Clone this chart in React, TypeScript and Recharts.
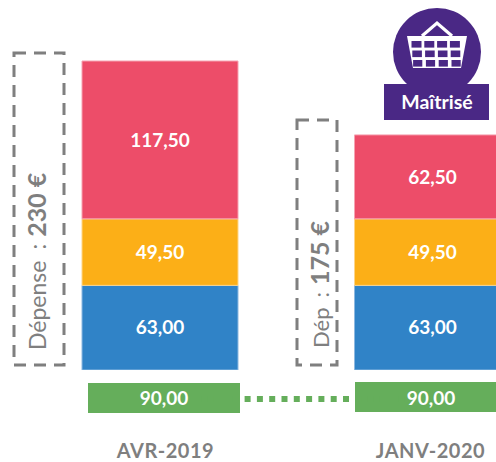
import { Bar, BarChart, LabelList, Line, ComposedChart, XAxis, YAxis } from "recharts";

const periods = ["AVR-2019", "JANV-2020"];
const blueValues = [63, 63];
const orangeValues = [49.5, 49.5];
const redValues = [117.5, 62.5];
const greenValues = [90, 90];
const linkLevels = [42, 42];

const stackData = periods.map((period, i) => ({
  period,
  blue: blueValues[i],
  orange: orangeValues[i],
  red: redValues[i],
}));

const greenData = periods.map((period, i) => ({
  period,
  green: greenValues[i],
  link: linkLevels[i],
}));

const FONT = "Lato, sans-serif";
const GREY = "#7f7f7f";
const PURPLE = "#4a2885";
const GREEN = "#65ae5b";
const fmt = (v: any) => Number(v).toFixed(2).replace(".", ",");

const labelStyle = { fill: "#fff", fontFamily: FONT, fontSize: 19, fontWeight: 700 };

function DashedBox({ x, y, w, h }: { x: number; y: number; w: number; h: number }) {
  return (
    <rect x={x} y={y} width={w} height={h} fill="none" stroke={GREY} strokeWidth={3} strokeDasharray="12 8" />
  );
}

// the two green boxes are not quite aligned in the original
function GreenBar({ x, y, width, height, index }: any) {
  const second = index === 1;
  return (
    <rect
      x={second ? x - 2 : x}
      y={second ? y - 1 : y}
      width={second ? width + 4 : width}
      height={height}
      fill={GREEN}
    />
  );
}

function GreenLabel({ x, y, width, height, value, index }: any) {
  return (
    <text
      x={x + width / 2 + (index === 1 ? -2 : 0)}
      y={y + height / 2}
      dy="0.35em"
      textAnchor="middle"
      {...labelStyle}
    >
      {fmt(value)}
    </text>
  );
}

function PeriodTick({ x, y, payload, index }: any) {
  return (
    <text
      x={x + (index === 1 ? -2 : 2)}
      y={y}
      dy="0.71em"
      textAnchor="middle"
      fill={GREY}
      fontFamily={FONT}
      fontSize={20}
      letterSpacing={0.5}
      fontWeight={700}
    >
      {payload.value}
    </text>
  );
}

function Overlay() {
  const cells = [];
  for (let r = 0; r < 3; r++) {
    for (let c = 0; c < 4; c++) {
      cells.push(
        <rect key={`${r}-${c}`} x={411.5 + c * 12.8 + r * 0.8} y={41 + r * 9.5} width={10 - r * 0.4} height={6.6} fill={PURPLE} />
      );
    }
  }
  return (
    <svg width={496} height={462} style={{ position: "absolute", left: 0, top: 0, pointerEvents: "none" }}>
      <DashedBox x={14} y={53} w={50} h={312} />
      <DashedBox x={297} y={120} w={40} h={245} />
      <g fill={GREY} fontFamily={FONT}>
        <text transform="translate(46,350) rotate(-90)" fontSize={23}>
          Dépense
          <tspan dx={11}>:</tspan>
          <tspan dx={7} fontWeight={700} fontSize={25}>230 €</tspan>
        </text>
        <text transform="translate(329,348) rotate(-90)" fontSize={22}>
          Dép
          <tspan dx={10}>:</tspan>
          <tspan dx={7} fontWeight={700} fontSize={25}>175 €</tspan>
        </text>
      </g>
      <circle cx={437} cy={52} r={44} fill={PURPLE} />
      <path d="M407 36 H467 L461 68 H413 Z" fill="#fff" />
      <path d="M422 36 L437 23 L452 36" fill="none" stroke="#fff" strokeWidth={3.2} />
      {cells}
      <rect x={384} y={84} width={105} height={36} fill={PURPLE} />
      <text x={437} y={109} textAnchor="middle" fill="#fff" fontFamily={FONT} fontSize={19.5} fontWeight={700}>
        Maîtrisé
      </text>
    </svg>
  );
}

export default function App() {
  return (
    <div style={{ position: "fixed", left: 0, top: 0, width: 496, height: 462, overflow: "hidden", background: "#fff" }}>
      <div style={{ position: "absolute", left: 23.5, top: 0 }}>
        <BarChart
          width={545}
          height={370}
          data={stackData}
          margin={{ top: 61, right: 0, bottom: 0, left: 0 }}
          barSize={156}
        >
          <XAxis dataKey="period" hide />
          <YAxis hide domain={[0, 230]} />
          <Bar dataKey="blue" stackId="a" fill="#3083c7" stroke="#8db8e0" strokeWidth={1} isAnimationActive={false}>
            <LabelList dataKey="blue" position="center" formatter={fmt} style={labelStyle} />
          </Bar>
          <Bar dataKey="orange" stackId="a" fill="#fcaf17" stroke="#fdd58a" strokeWidth={1} isAnimationActive={false}>
            <LabelList dataKey="orange" position="center" formatter={fmt} style={labelStyle} />
          </Bar>
          <Bar dataKey="red" stackId="a" fill="#ed4d69" stroke="#f6a3b2" strokeWidth={1} isAnimationActive={false}>
            <LabelList dataKey="red" position="center" formatter={fmt} style={labelStyle} />
          </Bar>
        </BarChart>
      </div>
      <div style={{ position: "absolute", left: 28.5, top: 0 }}>
        <ComposedChart
          width={538}
          height={462}
          data={greenData}
          margin={{ top: 383, right: 0, bottom: 19, left: 0 }}
          barSize={152}
        >
          <XAxis
            dataKey="period"
            axisLine={false}
            tickLine={false}
            tickMargin={25}
            tick={<PeriodTick />}
          />
          <YAxis hide domain={[0, 90]} />
          <Line
            dataKey="link"
            stroke={GREEN}
            strokeWidth={6}
            strokeDasharray="6 6.3"
            strokeDashoffset={5}
            dot={false}
            isAnimationActive={false}
          />
          <Bar dataKey="green" fill={GREEN} shape={<GreenBar />} isAnimationActive={false}>
            <LabelList dataKey="green" content={<GreenLabel />} />
          </Bar>
        </ComposedChart>
      </div>
      <Overlay />
    </div>
  );
}
